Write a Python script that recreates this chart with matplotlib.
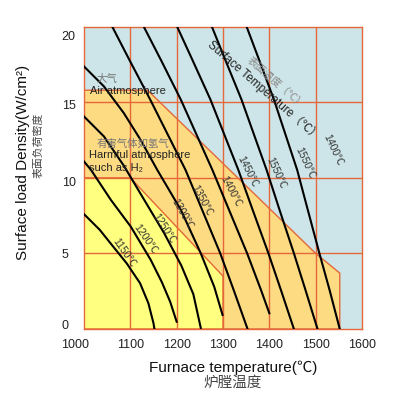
import matplotlib.pyplot as plt
from matplotlib.transforms import ScaledTranslation

# surface temperature curves
# furnace temperature (C) -> surface load density (W/cm2)
t1150 = [1000, 1034, 1063, 1092, 1121, 1139, 1150, 1152]
w1150 = [7.6, 6.56, 5.45, 4.35, 3.03, 1.7, 0.38, 0]
t1200 = [1000, 1015, 1058, 1101, 1144, 1168, 1186, 1200]
w1200 = [11.08, 10.53, 8.54, 6.77, 4.57, 3.1, 1.8, 0.48]
t1250 = [1000, 1043, 1086, 1130, 1173, 1210, 1236, 1252]
w1250 = [14.06, 12.74, 10.8, 8.54, 6.34, 4.2, 2.3, 0.07]
t1300 = [1000, 1043, 1086, 1122, 1158, 1209, 1252, 1281, 1299]
w1300 = [17.37, 16.05, 14.28, 12.52, 10.53, 7.88, 5.01, 2.8, 0.93]
t1350 = [1061, 1098, 1143, 1181, 1219, 1255, 1294, 1323, 1353]
w1350 = [20, 17.8, 15.17, 12.85, 10.53, 7.88, 5.01, 2.58, 0]
t1400 = [1129, 1166, 1209, 1243, 1277, 1313, 1352, 1382, 1400]
w1400 = [20, 17.8, 15.17, 12.85, 10.53, 7.88, 5.01, 2.58, 1.04]
t1450 = [1201, 1234, 1273, 1303, 1333, 1364, 1398, 1425, 1453]
w1450 = [20, 17.8, 15.17, 12.85, 10.53, 7.88, 5.01, 2.58, 0]
t1500 = [1276, 1305, 1340, 1367, 1394, 1422, 1453, 1478, 1504]
w1500 = [20, 17.8, 15.17, 12.85, 10.53, 7.88, 5.01, 2.58, 0]
t1550 = [1351, 1378, 1410, 1435, 1460, 1483, 1508, 1530, 1552]
w1550 = [20, 17.8, 15.17, 12.85, 10.53, 7.88, 5.01, 2.58, 0]

curves = [(t1150, w1150), (t1200, w1200), (t1250, w1250), (t1300, w1300),
          (t1350, w1350), (t1400, w1400), (t1450, w1450), (t1500, w1500),
          (t1550, w1550)]

# atmosphere zones (outline of the shaded areas)
harmful_t = [1000, 1000, 1137, 1500, 1552, 1552]
harmful_w = [0, 15.8, 15.8, 5.0, 3.7, 0]
inner_t = [1000, 1000, 1100, 1300, 1300]
inner_w = [0, 10, 10, 3.5, 0]

# curve labels: text, furnace temp, load, angle
label_text = ['1150℃', '1200℃', '1250℃', '1300℃', '1350℃', '1400℃',
              '1450℃', '1550℃', '1550℃', '1400℃']
label_t = [1086, 1132, 1173, 1212, 1255, 1317, 1353, 1415, 1477, 1537]
label_w = [5.03, 5.96, 6.66, 7.62, 8.48, 9.1, 10.4, 10.3, 11.0, 11.85]
label_rot = [-55, -55, -57, -60, -62, -62, -63, -65, -65, -65]

xticks = [1000, 1100, 1200, 1300, 1400, 1500, 1600]
yticks = [0, 5, 10, 15, 20]

blue = '#cde5e8'
orange = '#fddb82'
yellow = '#ffff80'
red = '#e4683a'
cjk = ['Noto Sans CJK SC', 'DejaVu Sans']
latin = ['Liberation Sans', 'Noto Sans CJK SC', 'DejaVu Sans']

fig = plt.figure(figsize=(3.94, 3.96), dpi=100)
ax = fig.add_axes([0.2132, 0.1692, 0.7056, 0.7634])
ax.set_facecolor(blue)

ax.fill(harmful_t, harmful_w, facecolor=orange, edgecolor=red, lw=1.0, zorder=1)
ax.fill(inner_t, inner_w, facecolor=yellow, edgecolor=red, lw=1.0, zorder=1.2)

for x in xticks[1:-1]:
    ax.axvline(x, color=red, lw=1.0, zorder=2)
for y in yticks[1:-1]:
    ax.axhline(y, color=red, lw=1.0, zorder=2)

for t, w in curves:
    ax.plot(t, w, color='black', lw=1.5, zorder=3, solid_joinstyle='round')

for s, t, w, r in zip(label_text, label_t, label_w, label_rot):
    ax.text(t, w, s, rotation=r, ha='center', va='center', fontsize=7.5,
            color='#333333', family=latin, zorder=4)

ax.text(1388, 15.76, 'Surface Temperature（℃）', rotation=-41, ha='center',
        va='center', fontsize=8.5, color='#222222', family=latin, zorder=4)
ax.text(1414, 16.3, '表面温度（℃）', rotation=-41, ha='center', va='center',
        fontsize=7.5, color='#888888', family=cjk, zorder=4)
ax.text(1049, 16.56, '大气', ha='center', va='center', fontsize=7.5,
        color='#777777', family=cjk, zorder=4)
ax.text(1013, 15.76, 'Air atmosphere', ha='left', va='center', fontsize=8,
        color='#222222', family=latin, zorder=4)
ax.text(1027, 12.3, '有害气体如氢气', ha='left', va='center', fontsize=7.5,
        color='#777777', family=cjk, zorder=4)
ax.text(1011, 11.48, 'Harmful atmosphere', ha='left', va='center', fontsize=8,
        color='#222222', family=latin, zorder=4)
ax.text(1011, 10.66, 'such as H₂', ha='left', va='center', fontsize=8,
        color='#222222', family=latin, zorder=4)

ax.set_xlim(1000, 1600)
ax.set_ylim(0, 20)
ax.set_xticks(xticks)
ax.set_yticks(yticks)
ax.tick_params(length=0, labelsize=9, colors='#222222')
ax.tick_params(axis='x', pad=7)
ax.tick_params(axis='y', pad=16)
for lab in ax.get_xticklabels() + ax.get_yticklabels():
    lab.set_family(latin)
for lab in ax.get_yticklabels():
    lab.set_horizontalalignment('left')

# nudge a few tick labels the way the original has them
ydy = [3, 0, -2.6, -1.4, -6.5]
for lab, dy in zip(ax.get_yticklabels(), ydy):
    lab.set_transform(lab.get_transform() + ScaledTranslation(0, dy / 72, fig.dpi_scale_trans))
first = ax.get_xticklabels()[0]
first.set_transform(first.get_transform() + ScaledTranslation(-6.5 / 72, 0, fig.dpi_scale_trans))

for sp in ax.spines.values():
    sp.set_color(red)
    sp.set_linewidth(1.0)

fig.text(0.591, 0.0707, 'Furnace temperature(℃)', ha='center', va='center',
         fontsize=11, color='#111111', family=latin)
fig.text(0.59, 0.033, '炉膛温度', ha='center', va='center', fontsize=10.5,
         color='#444444', family=cjk)
fig.text(0.058, 0.591, 'Surface load Density(W/cm²)', rotation=90, ha='center',
         va='center', fontsize=11, color='#111111', family=latin)
fig.text(0.0964, 0.634, '表面负荷密度', rotation=90, ha='center', va='center',
         fontsize=7.8, color='#444444', family=cjk)

fig.savefig('out.png', dpi=100)
